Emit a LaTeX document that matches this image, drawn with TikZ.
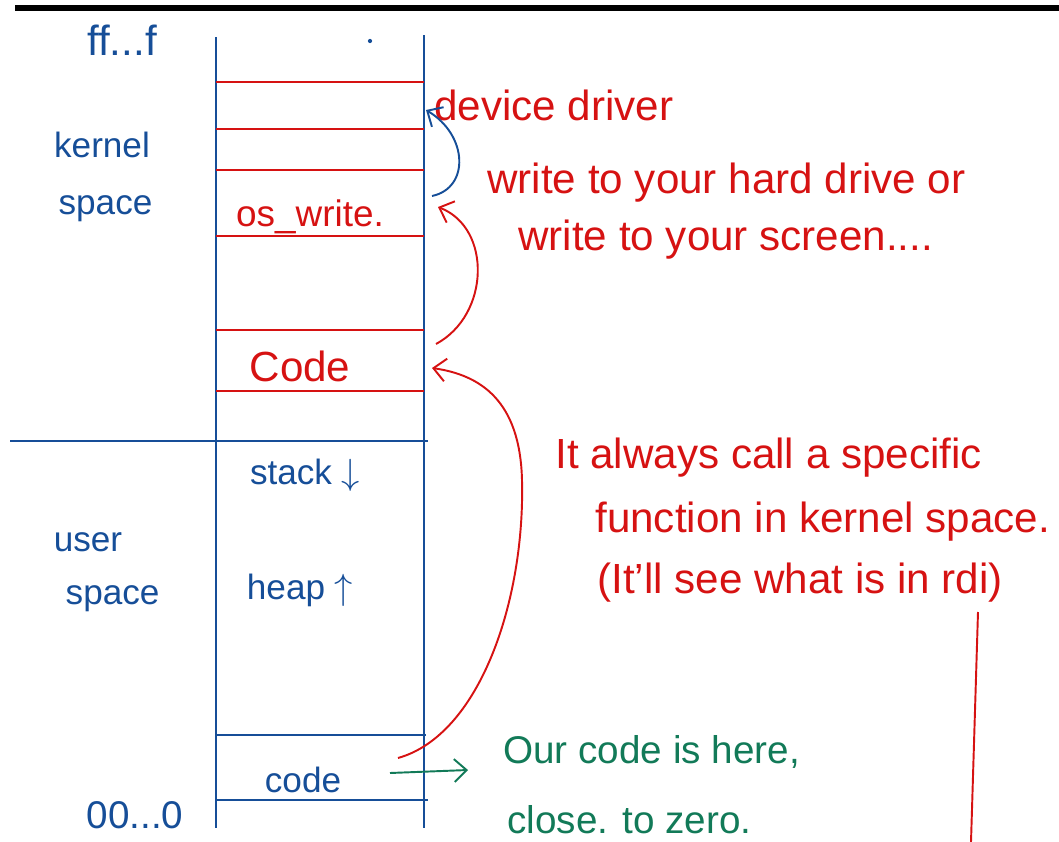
\documentclass[tikz,border=0pt]{standalone}
\usepackage{fontspec}
\setmainfont{Liberation Sans}
\usetikzlibrary{arrows.meta,positioning,calc}

\definecolor{penblue}{RGB}{22,78,152}
\definecolor{penred}{RGB}{214,18,18}
\definecolor{pengreen}{RGB}{18,122,88}

\begin{document}
\begin{tikzpicture}[x=0.02cm, y=-0.02cm,
    wall/.style={penblue, line width=1.2pt},
    slot/.style={penred, line width=1.1pt},
    bar/.style={penblue, line width=1.1pt},
    lbl/.style={text=penblue, font=\fontsize{20}{24}\selectfont, inner sep=0pt},
    note/.style={text=penred, font=\fontsize{24}{28}\selectfont, inner sep=0pt},
    green note/.style={text=pengreen, font=\fontsize{22}{26}\selectfont, inner sep=0pt},
    hand/.style={-{Straight Barb[length=7pt,width=13pt]}, line width=1.1pt}]

    \useasboundingbox (0,0) rectangle (1059,842);

    % top rule
    \draw[line width=3.4pt] (15,8) -- (1059,8);

    % memory column
    \coordinate (tl) at (216,37);
    \coordinate (tr) at (424,35);
    \coordinate (bl) at (216,828);
    \coordinate (br) at (424,828);
    \draw[wall] (tl) -- (bl);
    \draw[wall] (tr) -- (br);
    \fill[penblue] (370,41) circle (1.2pt);

    % kernel slots
    \foreach \y in {82,129,170,236,330,391}
        \draw[slot] (216,\y) -- (424,\y);

    % kernel / user split
    \draw[bar] (10,441) -- (428,441);

    % user code slot
    \draw[bar] (216,735) -- (426,735);
    \draw[bar] (216,800) -- (428,800);

    % left labels
    \node[lbl, font=\fontsize{24}{28}\selectfont] (ffmark) at (122,40) {ff...f};
    \node[lbl] (kernlbl) at (102,145) {kernel};
    \node[lbl, below=36pt of kernlbl.center, anchor=center, xshift=2pt] (kspace) {space};
    \node[lbl] (userlbl) at (88,542) {user};
    \node[lbl, below=32pt of userlbl.center, anchor=center, xshift=14pt] (uspace) {space};
    \node[lbl, font=\fontsize{22}{26}\selectfont] (zeromark) at (135,815) {00...0};

    % slot contents
    \node[note, font=\fontsize{21}{24}\selectfont] (oswrite) at (310,217) {os\_write.};
    \node[note] (kcode) at (300,366) {Code};
    \node[lbl] (stack) at (305,475) {stack $\downarrow$};
    \node[lbl] (heap) at (300,590) {heap $\uparrow$};
    \node[lbl] (ucode) at (303,780) {code};

    % right notes
    \node[note, anchor=west] (driver) at (434,105) {device driver};
    \node[note, anchor=west] (hdd) at (487,183) {write to your hard drive or};
    \node[note, anchor=west] (scr) at (518,240) {write to your screen....};
    \node[note, anchor=west] (call) at (555,458) {It always call a specific};
    \node[note, anchor=west] (func) at (595,522) {function in kernel space.};
    \node[note, anchor=west] (rdi) at (597,583) {(It'll see what is in rdi)};
    \node[green note, anchor=west] (ours) at (503,752) {Our code is here,};
    \node[green note, anchor=west] (zero) at (507,820) {close. to zero.};

    % arrows
    \coordinate (drvtip) at (426,110);
    \coordinate (drvtail) at (432,196);
    \coordinate (ostip) at (438,207);
    \coordinate (kctail) at (436,344);
    \coordinate (kctip) at (432,368);
    \coordinate (uctail) at (398,758);
    \coordinate (gtail) at (390,773);
    \coordinate (gtip) at (468,770);
    \coordinate (rditop) at (978,612);
    \coordinate (rdibot) at (971,842);

    \draw[hand, penblue] (drvtail) .. controls (470,188) and (468,135) .. (drvtip);
    \draw[hand, penred] (kctail) .. controls (490,315) and (492,228) .. (ostip);
    \draw[hand, penred] (uctail) .. controls (480,735) and (525,600) .. (522,480)
        .. controls (520,400) and (480,375) .. (kctip);
    \draw[hand, pengreen] (gtail) -- (gtip);
    \draw[penred, line width=1.1pt] (rditop) -- (rdibot);

\end{tikzpicture}
\end{document}
